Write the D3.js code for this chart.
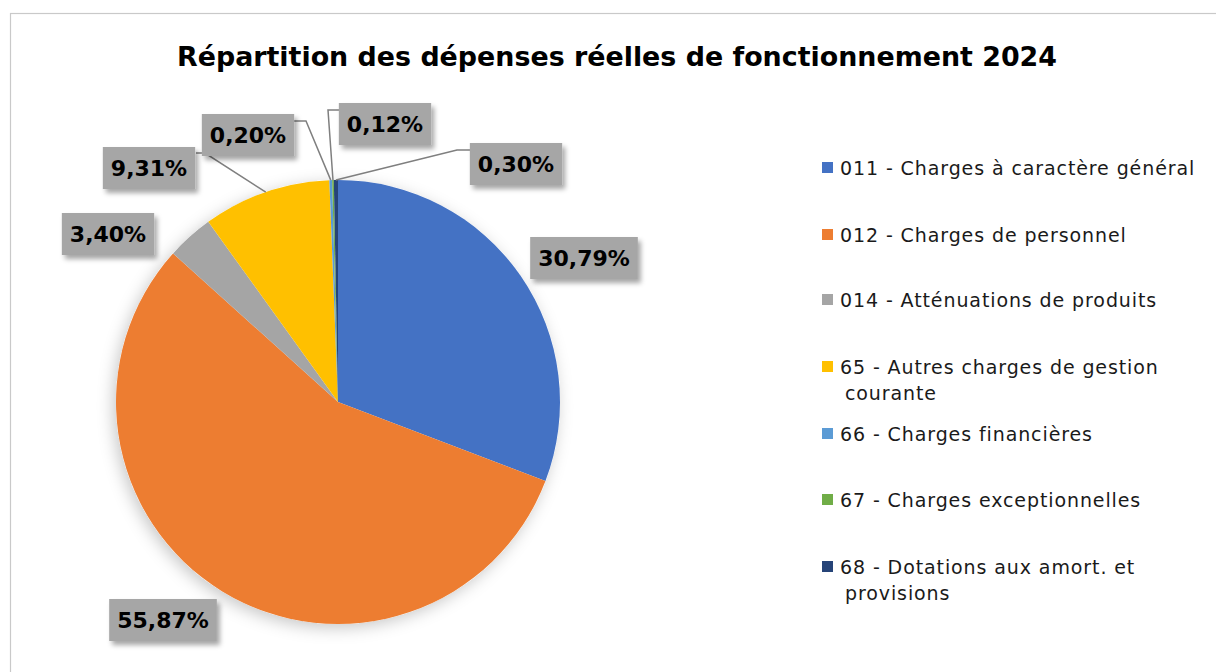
<!DOCTYPE html>
<html><head><meta charset="utf-8">
<script src="https://cdn.jsdelivr.net/npm/d3@7"></script>
<style>body{margin:0;background:#fff}svg{display:block}</style>
</head><body>
<svg id="chart" width="1216" height="672"></svg>
<script>
const categories = ["011 - Charges à caractère général","012 - Charges de personnel","014 - Atténuations de produits","65 - Autres charges de gestion courante","66 - Charges financières","67 - Charges exceptionnelles","68 - Dotations aux amort. et provisions"];
const values = [30.79, 55.87, 3.40, 9.31, 0.20, 0.12, 0.30];
const labels = ["30,79%","55,87%","3,40%","9,31%","0,20%","0,12%","0,30%"];
const colors = ["#4472c4","#ed7d31","#a5a5a5","#ffc000","#5b9bd5","#70ad47","#264478"];
const legendLines = [["011 - Charges à caractère général"],["012 - Charges de personnel"],["014 - Atténuations de produits"],["65 - Autres charges de gestion","courante"],["66 - Charges financières"],["67 - Charges exceptionnelles"],["68 - Dotations aux amort. et","provisions"]];
const title = "Répartition des dépenses réelles de fonctionnement 2024";

// layout (label box centres and leader bends)
const labelPos = [[584,258],[163,620],[108,234],[149,168],[248,135],[385,124],[516,164]];
const leaders = [null,null,null,[[196,153],[205,153]],[[294,121],[306,121]],[[340,110],[328,110]],[[470,150],[457,150]]];

const svg = d3.select("#chart");
const defs = svg.append("defs");
const f1 = defs.append("filter").attr("id","pieShadow").attr("x","-20%").attr("y","-20%").attr("width","140%").attr("height","140%");
f1.append("feDropShadow").attr("dx",-3).attr("dy",4).attr("stdDeviation",8).attr("flood-color","#000").attr("flood-opacity",0.22);
const f2 = defs.append("filter").attr("id","boxShadow").attr("x","-20%").attr("y","-30%").attr("width","150%").attr("height","170%");
f2.append("feDropShadow").attr("dx",3).attr("dy",4).attr("stdDeviation",2.5).attr("flood-color","#000").attr("flood-opacity",0.35);

svg.append("rect").attr("x",10.5).attr("y",13.5).attr("width",1230).attr("height",700)
  .attr("fill","#fff").attr("stroke","#c9c9c9").attr("stroke-width",1.2);

const tt = svg.append("text").attr("x",617).attr("y",66).attr("text-anchor","middle")
  .attr("font-family","'DejaVu Sans', sans-serif").attr("font-weight","bold").attr("font-size",27)
  .attr("fill","#000").text(title);
// fit title width to the reference span
const tw = tt.node().getComputedTextLength();
tt.attr("textLength",880).attr("lengthAdjust","spacingAndGlyphs");

const cx = 338, cy = 402, R = 222;
const pie = d3.pie().sort(null).value(d=>d)(values);
const arc = d3.arc().innerRadius(0).outerRadius(R);
const g = svg.append("g").attr("transform",`translate(${cx},${cy})`);
g.append("circle").attr("r",R).attr("fill","#fff").attr("filter","url(#pieShadow)");
g.selectAll("path.slice").data(pie).join("path").attr("class","slice")
  .attr("d",arc).attr("fill",(d,i)=>colors[i]);

// leader lines
const outer = d3.arc().innerRadius(R).outerRadius(R);
pie.forEach((d,i)=>{
  if(!leaders[i]) return;
  const c = outer.centroid(d);
  const pts = leaders[i].concat([[cx+c[0],cy+c[1]]]);
  svg.append("path").attr("d",d3.line()(pts)).attr("fill","none").attr("stroke","#7f7f7f").attr("stroke-width",1.5);
});

// labels
const lg = svg.append("g");
labels.forEach((t,i)=>{
  const [x,y] = labelPos[i];
  const grp = lg.append("g").attr("transform",`translate(${x},${y})`);
  const txt = grp.append("text").attr("text-anchor","middle").attr("dy","0.36em")
    .attr("font-family","'DejaVu Sans', sans-serif").attr("font-weight","bold").attr("font-size",22)
    .attr("fill","#000").text(t);
  const w = txt.node().getComputedTextLength() + 16, h = 42;
  grp.insert("rect","text").attr("x",-w/2).attr("y",-h/2).attr("width",w).attr("height",h)
    .attr("fill","#a6a6a6").attr("filter","url(#boxShadow)");
});

// legend
const legY = [168,235,300,367,434,500,567];
const leg = svg.append("g");
categories.forEach((c,i)=>{
  leg.append("rect").attr("x",822).attr("y",legY[i]-6).attr("width",11).attr("height",11).attr("fill",colors[i]);
  const t = leg.append("text").attr("x",840).attr("y",legY[i])
    .attr("font-family","'DejaVu Sans', sans-serif").attr("font-size",19).attr("letter-spacing",0.9).attr("fill","#1a1a1a");
  legendLines[i].forEach((ln,j)=>{
    t.append("tspan").attr("x",j?845:840).attr("dy",j?"26":"0.35em").text(ln);
  });
});
</script>
</body></html>
